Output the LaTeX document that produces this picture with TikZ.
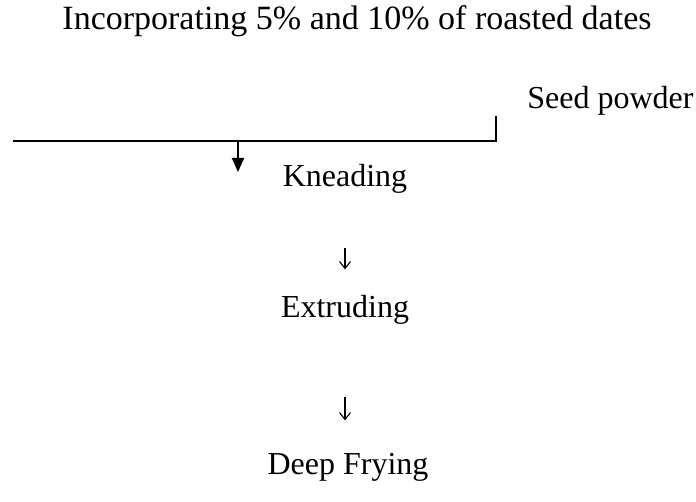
\documentclass[tikz,border=0pt]{standalone}
\usepackage{fontspec}
\setmainfont{Liberation Serif}
\usetikzlibrary{arrows.meta, positioning}
\tikzset{
  steptext/.style={
    anchor=base, inner sep=0pt, font=\fontsize{16}{19}\selectfont
  },
  flow/.style={
    -{Straight Barb[length=3.5pt, width=5.5pt]}, line width=0.55pt
  },
  feed/.style={
    -{Triangle[length=7pt, width=6pt]}, line width=1pt
  }
}

\begin{document}
\begin{tikzpicture}[x=0.5pt, y=-0.5pt]
    \useasboundingbox (0,0) rectangle (696,502);

    % Ingredients
    \node[steptext, font=\fontsize{17}{20}\selectfont] (title) at (357,30) {Incorporating 5\% and 10\% of roasted dates};
    \node[steptext, anchor=base west] (seed) at (527,109) {Seed powder};

    % Feed line
    \coordinate (lineL) at (13,141);
    \coordinate (lineR) at (496,141);
    \coordinate (tickT) at (496,116);
    \coordinate (drop) at (238,141);
    \coordinate (dropEnd) at (238,172);
    \draw[line width=0.7pt] (lineL) -- (lineR) -- (tickT);
    \draw[feed] (drop) -- (dropEnd);

    % Steps
    \node[steptext] (knead) at (345,187) {Kneading};
    \node[steptext] (extrude) at (345,318) {Extruding};
    \node[steptext] (fry) at (348,474) {Deep Frying};

    % Arrows
    \draw[flow, shorten <=27pt, shorten >=13pt] (knead.south -| extrude) -- (extrude.north);
    \draw[flow, shorten <=36pt, shorten >=16pt] (extrude.south) -- (extrude.south |- fry.north);

\end{tikzpicture}
\end{document}
